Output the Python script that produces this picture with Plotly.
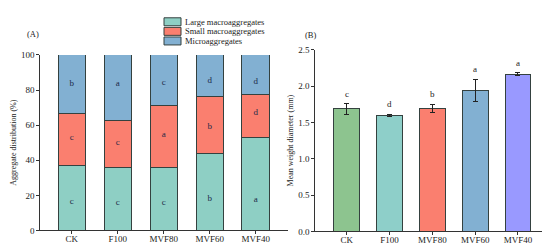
import plotly.graph_objects as go

# (A) aggregate distribution, stacked %
treatments = ['CK', 'F100', 'MVF80', 'MVF60', 'MVF40']
fractions = ['Large macroaggregates', 'Small macroaggregates', 'Microaggregates']
large_macro = [37.3, 35.6, 35.8, 43.9, 53.0]
small_macro = [29.1, 27.2, 35.2, 32.2, 24.3]
micro_agg = [33.6, 37.2, 29.0, 23.9, 22.7]
large_letters = ['c', 'c', 'c', 'b', 'a']
small_letters = ['c', 'c', 'a', 'b', 'd']
micro_letters = ['b', 'a', 'c', 'd', 'd']
large_label_y = [16.4, 16.0, 16.0, 18.2, 17.3]
small_label_y = [52.8, 50.0, 54.3, 59.2, 66.8]
micro_label_y = [83.4, 83.4, 84.3, 85.2, 84.9]

# (B) mean weight diameter
mwd = [1.685, 1.600, 1.695, 1.937, 2.162]
mwd_err = [0.07, 0.015, 0.058, 0.155, 0.02]
mwd_letters = ['c', 'd', 'b', 'a', 'a']

frac_colors = ['#8ECFC4', '#FA7F6F', '#82B0D2']
mwd_colors = ['#8DC48F', '#8ECFC9', '#FA7F6F', '#82B0D2', '#9999FF']
edge = '#34413f'
font_family = 'Liberation Serif'
txt = '#222222'
letter_col = '#1c2a48'
fs = 8.5
tick_fs = 9

fig = go.Figure()

stack = [large_macro, small_macro, micro_agg]
for name, vals, col in zip(fractions, stack, frac_colors):
    fig.add_trace(go.Bar(x=treatments, y=vals, name=name, marker_color=col,
                         marker_line=dict(color=edge, width=1), width=0.6,
                         xaxis='x', yaxis='y', showlegend=False))

for lab, ys in [(large_letters, large_label_y), (small_letters, small_label_y), (micro_letters, micro_label_y)]:
    fig.add_trace(go.Scatter(x=treatments, y=ys, mode='text', text=lab,
                             textfont=dict(family=font_family, size=9, color=letter_col),
                             xaxis='x', yaxis='y', showlegend=False, hoverinfo='skip'))

fig.add_trace(go.Bar(x=treatments, y=mwd, marker_color=mwd_colors,
                     marker_line=dict(color=edge, width=1), width=0.6,
                     error_y=dict(type='data', array=mwd_err, color='#222222', thickness=1, width=2.5),
                     xaxis='x2', yaxis='y2', showlegend=False))
for t, m, e, lab in zip(treatments, mwd, mwd_err, mwd_letters):
    fig.add_annotation(x=t, y=m + e, xref='x2', yref='y2', text=lab, showarrow=False,
                       yanchor='bottom', yshift=3,
                       font=dict(family=font_family, size=9, color=txt))

axis_common = dict(showline=True, linecolor='#333333', linewidth=1, ticks='outside',
                   ticklen=2.5, tickwidth=1, tickcolor='#333333', showgrid=False, zeroline=False,
                   tickfont=dict(family=font_family, size=tick_fs, color=txt))

fig.update_layout(
    width=550, height=245,
    margin=dict(l=0, r=0, t=0, b=0),
    paper_bgcolor='white', plot_bgcolor='white',
    font=dict(family=font_family, color=txt),
    xaxis=dict(domain=[0.0576, 0.509], range=[-0.7, 4.7], anchor='y', ticklabelstandoff=-3, **axis_common),
    yaxis=dict(domain=[0.0745, 0.8216], range=[0, 100], anchor='x', dtick=20,
               title=dict(text='Aggregate distribution (%)', font=dict(family=font_family, size=8), standoff=3),
               **axis_common),
    xaxis2=dict(domain=[0.5576, 0.991], range=[-0.75, 4.82], anchor='y2', ticklabelstandoff=-3, **axis_common),
    yaxis2=dict(domain=[0.0705, 0.8437], range=[0, 2.5], anchor='x2', dtick=0.5, tickformat='.1f',
                title=dict(text='Mean weight diameter (mm)', font=dict(family=font_family, size=8), standoff=3),
                **axis_common),
    barmode='stack',
)

# panel tags
fig.add_annotation(text='(A)', x=17 / 550, y=1 - 22 / 245, xref='paper', yref='paper',
                   xanchor='left', yanchor='middle', showarrow=False,
                   font=dict(family=font_family, size=fs, color=txt))
fig.add_annotation(text='(B)', x=295 / 550, y=1 - 23 / 245, xref='paper', yref='paper',
                   xanchor='left', yanchor='middle', showarrow=False,
                   font=dict(family=font_family, size=fs, color=txt))

# legend drawn as boxes + labels
for i, (name, col) in enumerate(zip(fractions, frac_colors)):
    top = 5 + i * 10
    fig.add_shape(type='rect', xref='paper', yref='paper',
                  x0=156 / 550, x1=173 / 550, y0=1 - (top + 8.3) / 245, y1=1 - top / 245,
                  fillcolor=col, line=dict(color=edge, width=1))
    fig.add_annotation(text=name, x=175 / 550, y=1 - (top + 4.2) / 245, xref='paper', yref='paper',
                       xanchor='left', yanchor='middle', showarrow=False,
                       font=dict(family=font_family, size=fs, color=txt))

fig.write_html("out.html")
